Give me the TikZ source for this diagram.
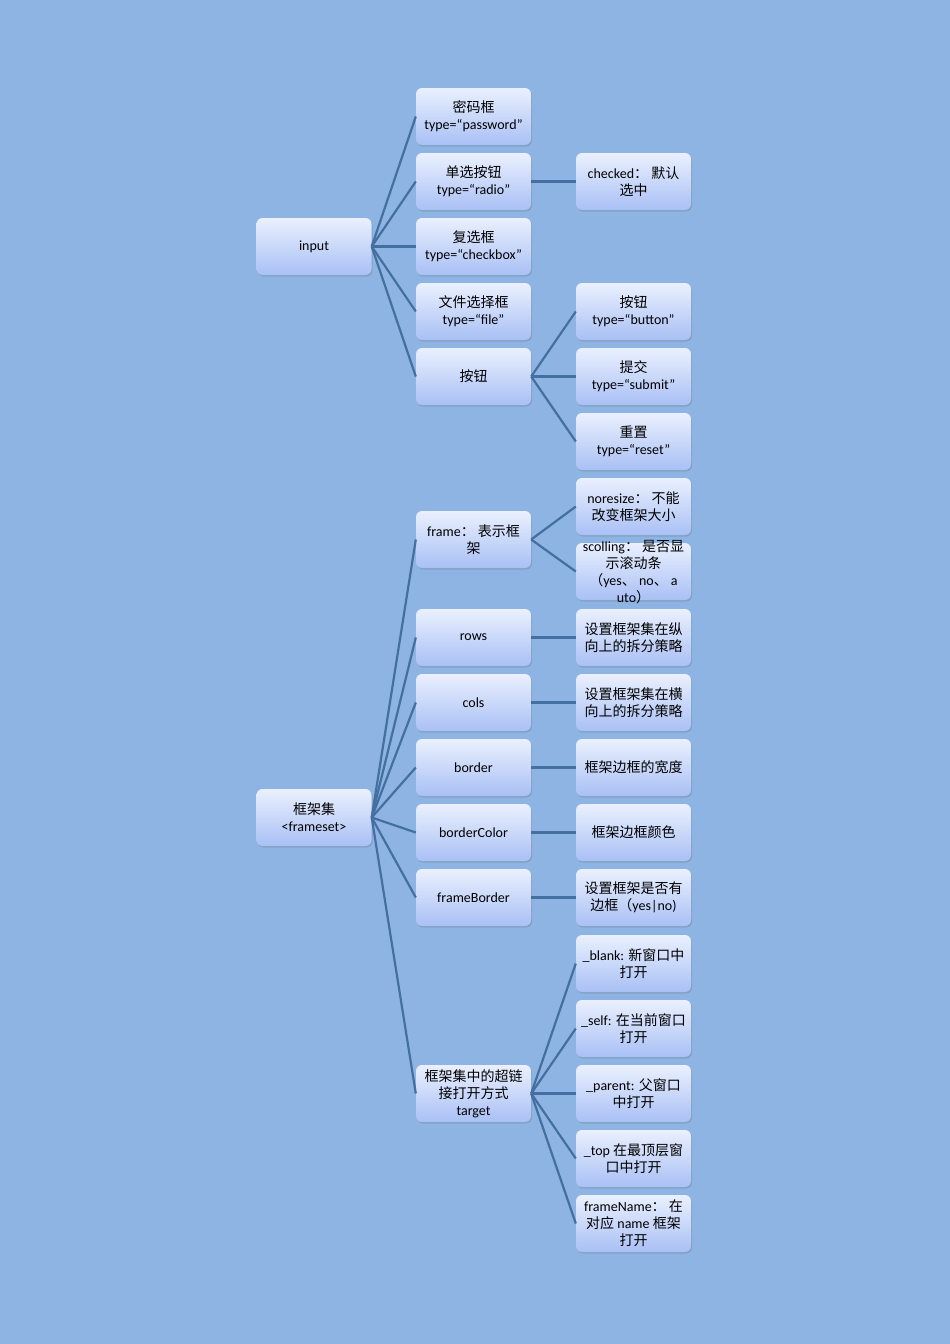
\documentclass[tikz,border=0pt]{standalone}
\usepackage{fontspec}
\setmainfont{Carlito}
\newfontfamily\cjk{Noto Sans CJK SC}
\newcommand{\Z}[1]{{\cjk #1}}
\usetikzlibrary{shadows}
\definecolor{bg}{HTML}{8EB4E3}
\definecolor{ln}{HTML}{44709F}
\definecolor{btop}{HTML}{EAF0FE}
\definecolor{bbot}{HTML}{A9C0F5}
\tikzset{
  box/.style={rounded corners=6pt, minimum width=115pt, minimum height=57pt, inner sep=0pt,
    top color=btop, bottom color=bbot, align=center, text=black,
    font=\fontsize{14}{17}\selectfont,
    drop shadow={shadow xshift=1pt, shadow yshift=-1.5pt, opacity=0.25, fill=black!60}},
  conn/.style={draw=ln, line width=2.2pt},
}
\begin{document}
\begin{tikzpicture}[x=1pt,y=-1pt]
\fill[bg] (0,0) rectangle (950,1344);
\useasboundingbox (0,0) rectangle (950,1344);
\def\xa{314}\def\xb{473.5}\def\xc{633.5}
% input tree
\node[box] (input) at (\xa,246.5) {input};
\node[box] (pw) at (\xb,116.5) {\Z{密码框}\\type=“password”};
\node[box] (radio) at (\xb,181.5) {\Z{单选按钮}\\type=“radio”};
\node[box] (cb) at (\xb,246.5) {\Z{复选框}\\type=“checkbox”};
\node[box] (file) at (\xb,311.5) {\Z{文件选择框}\\type=“file”};
\node[box] (btn) at (\xb,376.5) {\Z{按钮}};
\node[box] (checked) at (\xc,181.5) {checked\Z{：} \Z{默认}\\\Z{选中}};
\node[box] (b1) at (\xc,311.5) {\Z{按钮}\\type=“button”};
\node[box] (b2) at (\xc,376.5) {\Z{提交}\\type=“submit”};
\node[box] (b3) at (\xc,441.5) {\Z{重置}\\type=“reset”};
% frameset tree
\node[box] (fs) at (\xa,817.5) {\Z{框架集}\\<frameset>};
\node[box] (frame) at (\xb,539.5) {frame\Z{：} \Z{表示框}\\\Z{架}};
\node[box] (nores) at (\xc,506.5) {noresize\Z{：} \Z{不能}\\\Z{改变框架大小}};
\node[box] (scol) at (\xc,571.5) {};
\node[align=center, font=\fontsize{14}{17}\selectfont, inner sep=0pt] at (\xc,572.5)
  {scolling\Z{：} \Z{是否显}\\\Z{示滚动条}\\\Z{（}yes\Z{、} no\Z{、} a\\uto\Z{）}};
\node[box] (rows) at (\xb,637.5) {rows};
\node[box] (cols) at (\xb,702.5) {cols};
\node[box] (border) at (\xb,767.5) {border};
\node[box] (bcolor) at (\xb,832.5) {borderColor};
\node[box] (fborder) at (\xb,897.5) {frameBorder};
\node[box] (target) at (\xb,1093.5) {\Z{框架集中的超链}\\\Z{接打开方式}\\target};
\node[box] (rowsD) at (\xc,637.5) {\Z{设置框架集在纵}\\\Z{向上的拆分策略}};
\node[box] (colsD) at (\xc,702.5) {\Z{设置框架集在横}\\\Z{向上的拆分策略}};
\node[box] (borderD) at (\xc,767.5) {\Z{框架边框的宽度}};
\node[box] (bcolorD) at (\xc,832.5) {\Z{框架边框颜色}};
\node[box] (fborderD) at (\xc,897.5) {\Z{设置框架是否有}\\\Z{边框（}yes|no)};
\node[box] (blank) at (\xc,963.5) {\_blank: \Z{新窗口中}\\\Z{打开}};
\node[box] (self) at (\xc,1028.5) {\_self: \Z{在当前窗口}\\\Z{打开}};
\node[box] (parent) at (\xc,1093.5) {\_parent: \Z{父窗口}\\\Z{中打开}};
\node[box] (top) at (\xc,1158.5) {\_top \Z{在最顶层窗}\\\Z{口中打开}};
\node[box] (fname) at (\xc,1223.5) {frameName\Z{：} \Z{在}\\\Z{对应} name \Z{框架}\\\Z{打开}};
% connectors
\foreach \c in {pw,radio,cb,file,btn} \draw[conn] (input.east) -- (\c.west);
\draw[conn] (radio.east) -- (checked.west);
\foreach \c in {b1,b2,b3} \draw[conn] (btn.east) -- (\c.west);
\foreach \c in {frame,rows,cols,border,bcolor,fborder,target} \draw[conn] (fs.east) -- (\c.west);
\foreach \c in {nores,scol} \draw[conn] (frame.east) -- (\c.west);
\draw[conn] (rows.east) -- (rowsD.west);
\draw[conn] (cols.east) -- (colsD.west);
\draw[conn] (border.east) -- (borderD.west);
\draw[conn] (bcolor.east) -- (bcolorD.west);
\draw[conn] (fborder.east) -- (fborderD.west);
\foreach \c in {blank,self,parent,top,fname} \draw[conn] (target.east) -- (\c.west);
\end{tikzpicture}
\end{document}
